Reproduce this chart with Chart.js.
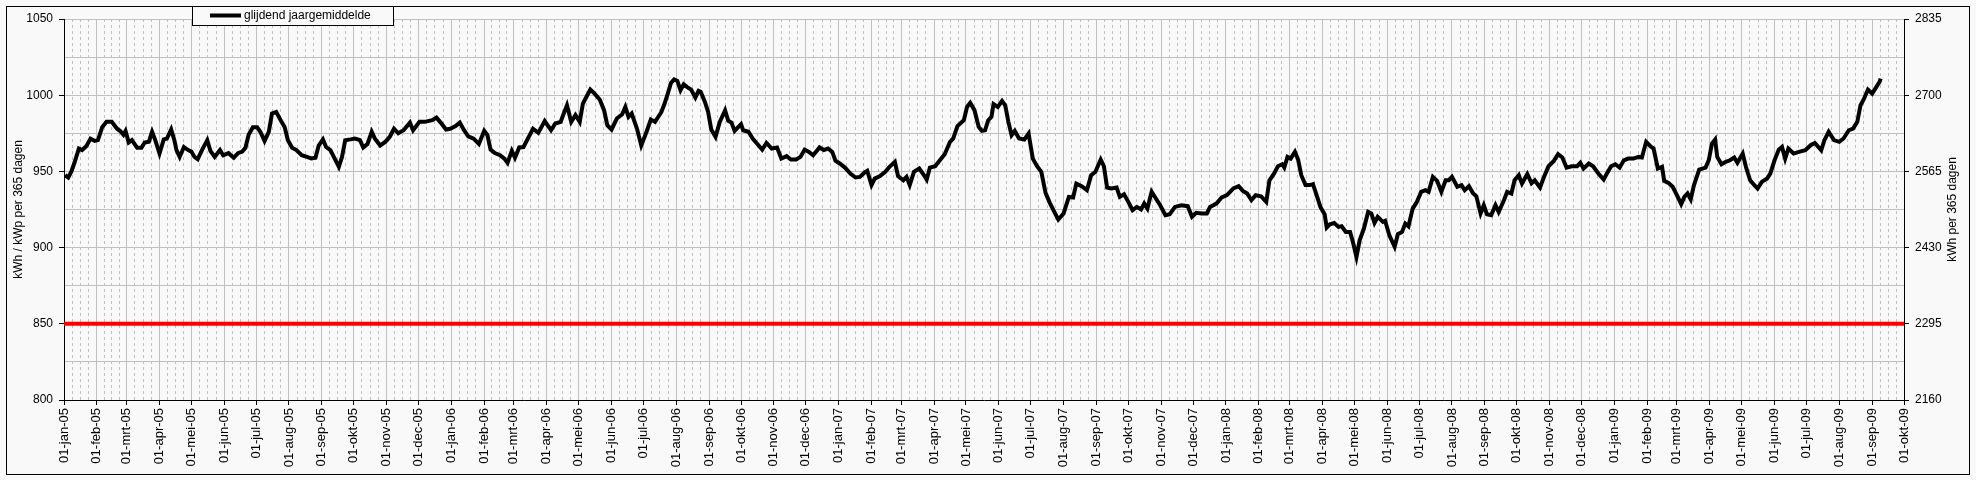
<!DOCTYPE html>
<html>
<head>
<meta charset="utf-8">
<script src="https://cdn.jsdelivr.net/npm/chart.js@4.4.1/dist/chart.umd.min.js"></script>
<style>
  html, body { margin: 0; padding: 0; background: #f9f9f9; }
  canvas { display: block; }
</style>
</head>
<body>
<canvas id="opbrengstChart" width="1976" height="480"></canvas>
<script>
const dagen = [
  1, 4, 7, 10, 14, 17, 21, 25, 29, 32, 36, 40, 45, 50, 53, 56, 58, 61, 64, 69,
  73, 76, 80, 83, 86, 90, 94, 97, 101, 104, 106, 109, 113, 117, 120, 123, 126, 130, 135, 138,
  142, 147, 150, 155, 160, 164, 168, 171, 174, 178, 182, 185, 189, 193, 196, 200, 205, 208, 211, 215,
  219, 224, 229, 233, 237, 240, 244, 247, 251, 255, 259, 262, 265, 270, 274, 279,
  282, 286, 290, 293, 298, 303, 307, 311, 315, 320, 326, 329, 335, 340, 347, 351, 355, 360, 364, 369,
  373, 377, 381, 386, 391, 396, 399, 402, 406, 411, 415, 418, 422, 425, 429, 433, 438, 442, 447, 453,
  459, 463, 468, 471, 474, 478, 482, 486, 489, 492, 496, 500, 505, 509, 512, 516, 521, 526, 529, 532,
  535, 540, 544, 549, 553, 557, 563,
  566, 569, 572, 575, 578, 581, 584, 587, 591, 595, 598, 600, 604, 607, 610, 614, 618, 623, 626, 629,
  632, 638, 640, 645, 649, 653, 658, 662, 667, 672, 676, 681, 685, 690, 694, 698, 702, 706, 712, 716,
  720, 724, 727, 731, 736, 741, 746, 750, 754, 757, 761, 764, 769, 774, 778, 783, 786, 791, 794, 797,
  801, 806, 811, 813, 816, 821, 826, 830, 835, 838, 842, 848, 851, 854,
  858, 862, 865, 868, 871, 874, 876, 880, 884, 887, 890, 893, 896, 900, 905, 909, 913, 917, 921, 925,
  929, 934, 937, 942, 947, 951, 954, 959, 964, 968, 972, 977, 980, 983, 987, 992, 995, 999, 1003, 1007,
  1011, 1015, 1018, 1021, 1025, 1029, 1033, 1038, 1042, 1047, 1053, 1059, 1063, 1067, 1072, 1077, 1080, 1086, 1091, 1096,
  1102, 1107, 1111, 1115, 1119, 1123, 1128, 1133, 1136, 1140,
  1144, 1148, 1150, 1153, 1156, 1160, 1163, 1166, 1170, 1174, 1177, 1181, 1184, 1188, 1190, 1193, 1197, 1201, 1204, 1208,
  1212, 1215, 1218, 1221, 1225, 1229, 1232, 1235, 1238, 1243, 1245, 1249, 1254, 1257, 1261, 1264, 1267, 1271, 1275, 1279,
  1283, 1286, 1290, 1294, 1298, 1302, 1305, 1308, 1313, 1317, 1320, 1324, 1328, 1331, 1335, 1338, 1341, 1345, 1349, 1352,
  1357, 1360, 1364, 1367, 1371, 1374, 1379, 1383, 1386, 1391, 1395, 1399, 1404, 1408, 1412, 1416, 1421, 1426, 1429,
  1432, 1437, 1441, 1446, 1451, 1454, 1458, 1462, 1466, 1470, 1474, 1479, 1484, 1487, 1491, 1495, 1498, 1502, 1506, 1508,
  1512, 1516, 1520, 1524, 1527, 1530, 1533, 1536, 1541, 1547, 1550, 1553, 1556, 1558, 1562, 1566, 1570, 1574, 1577, 1582,
  1585, 1589, 1593, 1596, 1600, 1605, 1608, 1612, 1616, 1619, 1622, 1625, 1630, 1635, 1641, 1646, 1650, 1656, 1659, 1663,
  1668, 1673, 1677, 1682, 1686, 1690, 1693, 1696, 1700, 1704, 1708, 1711, 1712
];
const waarden = [
  947.5, 946, 950, 956, 965, 964, 966.5, 971.5, 970, 970.5, 979, 982.5, 982.5, 978, 976.5, 974, 976.5, 969, 970.5, 965.5,
  965.5, 969, 969.5, 976, 970.5, 961.7, 971, 971.5, 977.5, 970.5, 964, 959.5, 966, 964, 963, 959.5, 958, 964, 970.5, 963.5,
  959.5, 964, 960.6, 962, 959, 962, 963, 965.5, 974, 979, 979, 976, 970, 976, 988, 989, 982.5, 979, 970.5, 965.5,
  964, 960.6, 959.5, 958.5, 959, 967, 971, 966, 964, 958.5, 953, 959.5, 970.5, 971, 971.5, 970.5,
  965.7, 968, 976, 971.5, 967, 969.5, 972.7, 978, 975, 977, 982, 977, 982.5, 982.5, 983.6, 985.3, 982, 977.5, 978, 979.7,
  982, 977, 973, 971.5, 968, 976.6, 973.8, 964.3, 962, 960.6, 958.4, 955.6, 963.5, 959, 965.7, 966, 972.7, 978, 975.3, 983,
  977, 981.4, 982.5, 988, 993.4, 982.5, 987, 982.5, 994.5, 998.5, 1003.7, 1001, 997, 990, 980.3, 977.5, 984.7, 987.5, 992.3, 985.8,
  988, 978, 967, 976, 984, 982.5, 989,
  994.5, 1001, 1008, 1010.3, 1009.4, 1003.3, 1007.2, 1005.5, 1003.7, 998.5, 1002.8, 1002.2, 995.6, 989, 977.5, 972.7, 982.5, 990, 983.2, 982,
  976.6, 981, 977, 976, 971.5, 968.3, 964.3, 968.7, 965, 965.7, 958.4, 960, 957.8, 957.8, 959.5, 964.3, 962.8, 960.6, 965.7, 964,
  965, 962.8, 957, 955.2, 952.5, 948.6, 946, 946.4, 949, 950.3, 941, 945.3, 946.9, 949.7, 953, 956.3, 946.9, 944.2, 946.4, 941,
  949.7, 951.9, 946.9, 944.7, 952.5, 953.4, 957.8, 961.3, 969.4, 971.6, 979.7, 983.6, 992.3, 995,
  990.2, 979.2, 976.6, 977, 983.6, 985.8, 994.1, 992.3, 996.3, 993.4, 982.5, 973.8, 976.6, 971.6, 970.9, 974.8, 958.4, 953.4, 949.7, 935.9,
  929.4, 922.4, 918.4, 922.4, 933.3, 932.9, 942, 940.3, 937.7, 947.5, 949.7, 957.8, 953.4, 939.4, 938.8, 939.4, 933.3, 935, 930, 924.5,
  926.7, 925, 928.9, 925.6, 936.6, 932.2, 927.8, 921.3, 921.9, 926.7, 927.8, 927.2, 920.2, 922.8, 922.4, 922.4, 926.7, 928.9, 932.9, 934.4,
  938.8, 940.3, 937.2, 935.5, 931.1, 934.4, 933.7, 930, 944.2, 948.2,
  953.4, 954.7, 952.5, 959.5, 958.4, 962.8, 957.8, 947.5, 941, 941, 941.6, 933.3, 926.7, 921.9, 913.2, 915.3, 916.2, 913.6, 914, 910.3,
  910.3, 902.7, 893.9, 904.8, 912.5, 923.4, 922.4, 916.2, 920.2, 916.9, 917.6, 908.1, 900.5, 908.8, 910.3, 915.8, 914, 925.6, 930, 936.6,
  937.7, 936.6, 946.4, 943.8, 936.6, 944.2, 944.2, 946.4, 939.9, 941, 937.7, 940.3, 935.5, 933.7, 922.4, 927.8, 921.9, 921.3, 927.8, 923.4,
  931.1, 936.6, 935.5, 944.2, 947.5, 942, 948.2, 942.3, 944.2, 939.4, 946.9, 953.4, 956.9, 961.3, 959.1, 952.5, 953.4, 953.4, 955.6,
  951.9, 955.2, 953.4, 948.6, 944.7, 948.6, 953.4, 954.7, 952.5, 957.3, 958.4, 958.4, 959.5, 959.1, 969.4, 966.5, 965, 951.9, 953, 943.8,
  942.5, 939.9, 934.4, 928.5, 933.3, 935.5, 931.6, 940.9, 951.2, 952.5, 957.3, 968.3, 970.9, 959.5, 954.7, 956.3, 957.3, 959.1, 955.6, 961.7,
  953, 944.2, 940.9, 938.8, 943.1, 945.3, 948.6, 957.3, 964.3, 966.1, 958.4, 965, 961.7, 962.8, 963.9, 967.2, 968.7, 963.9, 970.5, 976,
  970.5, 969.4, 971.6, 977, 978.1, 982.5, 993.4, 997.2, 1003.7, 1001.1, 1005.5, 1008.7, 1010.9
];
const norm = 850; // rode lijn
const maanden = ["jan", "feb", "mrt", "apr", "mei", "jun", "jul", "aug", "sep", "okt", "nov", "dec"];
const aantalMaanden = 57; // 01-jan-05 t/m 01-okt-09
const linksTitel = "kWh / kWp per 365 dagen";
const rechtsTitel = "kWh per 365 dagen";

Chart.defaults.font.family = '"Liberation Sans", Arial, sans-serif';
Chart.defaults.color = "#000";

const start = Date.UTC(2005, 0, 1);
const maandStart = [];
const maandLabels = [];
for (let m = 0; m <= aantalMaanden; m++) {
  maandStart.push((Date.UTC(2005, m, 1) - start) / 86400000);
  maandLabels.push("01-" + maanden[m % 12] + "-" + String(5 + Math.floor(m / 12)).padStart(2, "0"));
}
const xMax = maandStart[aantalMaanden];

// hulplijnen: elke maand in vieren
const weekTicks = [];
for (let m = 0; m < aantalMaanden; m++) {
  const len = maandStart[m + 1] - maandStart[m];
  for (let k = 1; k < 4; k++) weekTicks.push({ value: maandStart[m] + (k * len) / 4 });
}

const achtergrond = {
  id: "achtergrond",
  beforeDraw(chart) {
    const ctx = chart.ctx;
    ctx.save();
    ctx.fillStyle = "#f9f9f9";
    ctx.fillRect(0, 0, chart.width, chart.height);
    ctx.strokeStyle = "#000";
    ctx.lineWidth = 1;
    ctx.strokeRect(6.5, 6.5, 1963, 468);
    ctx.restore();
  },
};

const extraTekst = {
  id: "extraTekst",
  afterDraw(chart) {
    const ctx = chart.ctx;
    const area = chart.chartArea;
    ctx.save();
    // legenda
    ctx.fillStyle = "#f9f9f9";
    ctx.fillRect(192, 6, 201, 19);
    ctx.strokeStyle = "#000";
    ctx.lineWidth = 1;
    ctx.strokeRect(192.5, 6.5, 201, 19);
    ctx.lineWidth = 4;
    ctx.beginPath();
    ctx.moveTo(210, 15.5);
    ctx.lineTo(241, 15.5);
    ctx.stroke();
    ctx.fillStyle = "#000";
    ctx.font = '12px "Liberation Sans", Arial, sans-serif';
    ctx.textBaseline = "middle";
    ctx.fillText(chart.data.datasets[0].label, 244, 16);
    // titel rechteras
    ctx.translate(1953, (area.top + area.bottom) / 2);
    ctx.rotate(-Math.PI / 2);
    ctx.textAlign = "center";
    ctx.fillText(rechtsTitel, 0, 0);
    ctx.restore();
  },
};

new Chart(document.getElementById("opbrengstChart"), {
  type: "line",
  data: {
    datasets: [
      {
        label: "glijdend jaargemiddelde",
        data: dagen.map((d, i) => ({ x: d, y: waarden[i] })),
        borderColor: "#000",
        borderWidth: 4,
        pointRadius: 0,
        tension: 0,
        xAxisID: "x",
        yAxisID: "y",
      },
      {
        label: "norm",
        data: [{ x: 0, y: norm }, { x: xMax, y: norm }],
        borderColor: "#ff0000",
        borderWidth: 4,
        pointRadius: 0,
        xAxisID: "x",
        yAxisID: "y",
      },
    ],
  },
  options: {
    responsive: false,
    animation: false,
    layout: { padding: { top: 19, left: 0, right: 0, bottom: 0 } },
    plugins: {
      legend: { display: false },
      tooltip: { enabled: false },
    },
    scales: {
      x: {
        type: "linear",
        position: "bottom",
        min: 0,
        max: xMax,
        afterBuildTicks: (s) => { s.ticks = maandStart.map((v) => ({ value: v })); },
        afterFit: (s) => { s.height = 80; },
        ticks: {
          autoSkip: false,
          minRotation: 90,
          maxRotation: 90,
          padding: 3,
          font: { size: 13 },
          callback: (v, i) => maandLabels[i],
        },
        grid: { color: "#c0c0c0", tickColor: "#000", tickLength: 5 },
        border: { color: "#000" },
      },
      xWeek: {
        type: "linear",
        position: "bottom",
        min: 0,
        max: xMax,
        afterBuildTicks: (s) => { s.ticks = weekTicks.slice(); },
        afterFit: (s) => { s.height = 0; },
        ticks: { display: false },
        grid: { color: "#c0c0c0", drawTicks: false },
        border: { display: false, dash: [3, 3] },
      },
      y: {
        position: "left",
        min: 800,
        max: 1050,
        afterFit: (s) => { s.width = 64; },
        ticks: {
          stepSize: 25,
          padding: 6,
          font: { size: 12 },
          callback: (v) => (v % 50 === 0 ? String(v) : ""),
        },
        grid: {
          color: "#c0c0c0",
          tickLength: 5,
          tickColor: (c) => (c.tick && c.tick.value % 50 === 0 ? "#000" : "rgba(0,0,0,0)"),
        },
        border: { color: "#000" },
        title: { display: true, text: linksTitel, font: { size: 12 }, padding: { top: 11, bottom: 0 } },
      },
      y2: {
        position: "right",
        min: 2160,
        max: 2835,
        afterFit: (s) => { s.width = 72; },
        ticks: { stepSize: 135, padding: 6, font: { size: 12 }, callback: (v) => String(v) },
        grid: { drawOnChartArea: false, tickColor: "#000", tickLength: 5 },
        border: { color: "#000" },
      },
    },
  },
  plugins: [achtergrond, extraTekst],
});
</script>
</body>
</html>
